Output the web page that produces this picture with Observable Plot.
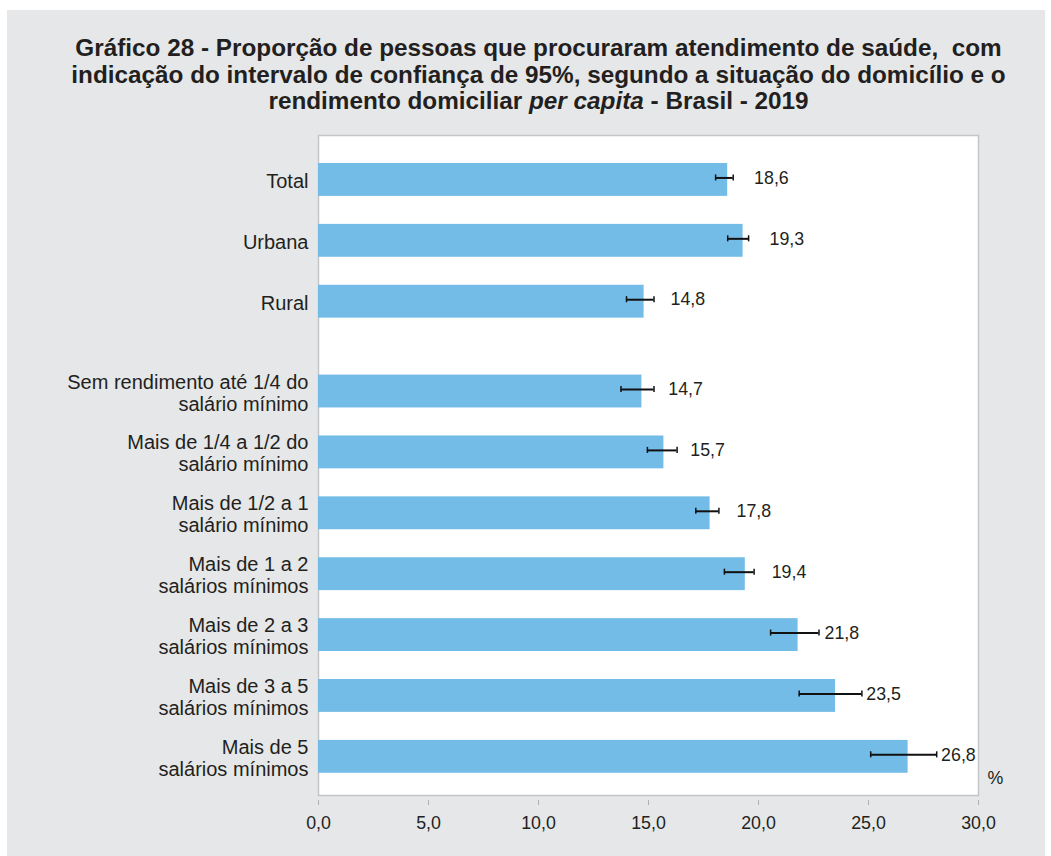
<!DOCTYPE html>
<html>
<head>
<meta charset="utf-8">
<script src="https://cdn.jsdelivr.net/npm/d3@7"></script>
<script src="https://cdn.jsdelivr.net/npm/@observablehq/plot@0.6"></script>
<style>
  html, body { margin: 0; padding: 0; background: #ffffff; width: 1051px; height: 856px; overflow: hidden; }
  #bg { position: absolute; left: 7px; top: 10px; width: 1038px; height: 846px; background: #e6e7e8; }
  #title { position: absolute; left: 538.5px; top: 35px; transform: translateX(-50%); white-space: nowrap;
    font-family: "Liberation Sans", Arial, sans-serif; font-weight: bold; font-size: 24.3px; line-height: 26.7px;
    color: #231f20; text-align: center; }
  #chart { position: absolute; left: 0; top: 0; }
</style>
</head>
<body>
<div id="bg"></div>
<div id="title">Gráfico 28 - Proporção de pessoas que procuraram atendimento de saúde,&nbsp; com<br>indicação do intervalo de confiança de 95%, segundo a situação do domicílio e o<br>rendimento domiciliar <i>per capita</i> - Brasil - 2019</div>
<div id="chart"></div>
<script>
const categories = [
  "Total",
  "Urbana",
  "Rural",
  "Sem rendimento até 1/4 do\nsalário mínimo",
  "Mais de 1/4 a 1/2 do\nsalário mínimo",
  "Mais de 1/2 a 1\nsalário mínimo",
  "Mais de 1 a 2\nsalários mínimos",
  "Mais de 2 a 3\nsalários mínimos",
  "Mais de 3 a 5\nsalários mínimos",
  "Mais de 5\nsalários mínimos"
];
const groups = [1, 1, 1, 2, 2, 2, 2, 2, 2, 2];
const values = [18.6, 19.3, 14.8, 14.7, 15.7, 17.8, 19.4, 21.8, 23.5, 26.8];
const lower  = [18.05, 18.6, 14.0, 13.75, 14.95, 17.15, 18.45, 20.55, 21.85, 25.1];
const upper  = [18.85, 19.55, 15.25, 15.25, 16.3, 18.2, 19.8, 22.75, 24.7, 28.1];
const xTicks = [0, 5, 10, 15, 20, 25, 30];

const fmt = v => v.toFixed(1).replace(".", ",");
// row index, with half a row of extra space between the two groups
const rows = categories.map((label, i) => ({
  label, value: values[i], lower: lower[i], upper: upper[i],
  pos: i + (groups[i] === 2 ? 0.475 : 0)
}));

const ink = "#231f20";
const chart = Plot.plot({
  width: 1051,
  height: 856,
  marginLeft: 318,
  marginRight: 73,
  marginTop: 135,
  marginBottom: 61,
  style: { background: "transparent", fontFamily: "'Liberation Sans', Arial, sans-serif", color: ink },
  x: { domain: [0, 30], axis: null },
  y: { domain: [-0.73, 10.11], reverse: true, axis: null },
  marks: [
    Plot.frame({ fill: "white", stroke: "#c4c5c7", strokeWidth: 1.5 }),
    Plot.rect(rows, { x1: 0, x2: "value", y1: d => d.pos - 0.27, y2: d => d.pos + 0.27, fill: "#73bce7" }),
    Plot.ruleY(rows, { x1: "lower", x2: "upper", y: "pos", dy: -2, stroke: "#111", strokeWidth: 2 }),
    Plot.ruleX(rows, { x: "lower", y1: d => d.pos - 0.05, y2: d => d.pos + 0.05, dy: -2, stroke: "#111", strokeWidth: 1.5 }),
    Plot.ruleX(rows, { x: "upper", y1: d => d.pos - 0.05, y2: d => d.pos + 0.05, dy: -2, stroke: "#111", strokeWidth: 1.5 }),
    Plot.text(rows, { x: d => Math.max(d.value + 1.2, d.upper + 0.2), y: "pos", dy: -2, text: d => fmt(d.value),
      textAnchor: "start", fontSize: 17.8, fill: ink }),
    Plot.text(rows, { x: 0, y: "pos", dx: -10, dy: 1, text: "label", textAnchor: "end", lineAnchor: "middle",
      lineHeight: 1.1, fontSize: 20, fill: ink }),
    Plot.axisX({ ticks: xTicks, tickSize: 5, dy: 5, tickFormat: () => "", stroke: "#b0b0b0" }),
    Plot.axisX({ ticks: xTicks, tickSize: 0, tickPadding: 21, tickFormat: fmt, fontSize: 17.8, fill: ink }),
    Plot.text(["%"], { frameAnchor: "bottom-right", dx: 9, dy: -17, textAnchor: "start", lineAnchor: "middle",
      fontSize: 17.8, fill: ink })
  ]
});
document.getElementById("chart").append(chart);
</script>
</body>
</html>
